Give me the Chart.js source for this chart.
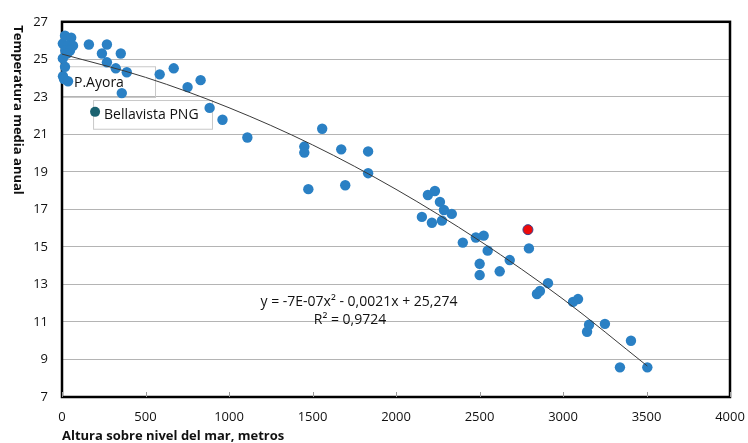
<!DOCTYPE html>
<html>
<head>
<meta charset="utf-8">
<script src="https://cdn.jsdelivr.net/npm/chart.js@4.4.1/dist/chart.umd.min.js"></script>
<style>
  html, body { margin: 0; padding: 0; background: #fff; }
  #wrap { width: 748px; height: 443px; }
</style>
</head>
<body>
<div id="wrap"><canvas id="tempChart" width="748" height="443"></canvas></div>
<script>
/* =========================
   DATA
========================= */

// altitude (m) and mean annual temperature (°C) of the stations
const altitudes = [
  18, 55, 5, 35, 66, 20, 48, 30, 5, 18, 6, 12, 36,
  161, 269, 239, 352, 269, 322, 388, 358, 585, 669, 752, 830, 884, 961, 1110,
  1451, 1451, 1558, 1672, 1833, 1833, 1475, 1696,
  2191, 2233, 2263, 2287, 2334, 2155, 2215, 2275, 2400,
  2478, 2525, 2549, 2501, 2501, 2621, 2681, 2796,
  2844, 2862, 2910, 3060, 3090, 3156, 3144, 3251, 3407, 3341, 3505
];

const temperatures = [
  26.26, 26.15, 25.84, 25.73, 25.73, 25.47, 25.47, 25.3, 25.05, 24.6, 24.1, 23.95, 23.83,
  25.79, 25.79, 25.31, 25.31, 24.84, 24.52, 24.31, 23.2, 24.2, 24.52, 23.52, 23.89, 22.41, 21.78, 20.83,
  20.35, 20.03, 21.3, 20.2, 20.09, 18.93, 18.08, 18.29,
  17.77, 17.98, 17.4, 16.97, 16.76, 16.6, 16.29, 16.4, 15.23,
  15.5, 15.6, 14.8, 14.1, 13.5, 13.7, 14.3, 14.92,
  12.49, 12.65, 13.07, 12.07, 12.22, 10.85, 10.48, 10.9, 10.0, 8.58, 8.58
];

// Bellavista PNG station
const bellavistaAlt = [198];
const bellavistaTemp = [22.2];

// highlighted station (red)
const highlightAlt = [2790];
const highlightTemp = [15.92];

// polynomial trend line
const trendAlt = [0, 500, 1000, 1500, 2000, 2500, 3000, 3505];
const trendTemp = [25.28, 24.04, 22.42, 20.44, 18.07, 15.33, 12.22, 8.65];

const xTicks = [0, 500, 1000, 1500, 2000, 2500, 3000, 3500, 4000];
const yTicks = [7, 9, 11, 13, 15, 17, 19, 21, 23, 25, 27];

const equationText = "y = -7E-07x\u00B2 - 0,0021x + 25,274";
const r2Text = "R\u00B2 = 0,9724";
const yTitle = "Temperatura media anual";
const xTitle = "Altura sobre nivel del mar, metros";

const FONT = "'Open Sans', 'Noto Sans', sans-serif";

function toPoints(xs, ys) {
  return xs.map((x, i) => ({ x: x, y: ys[i] }));
}

/* =========================
   FRAME, TICKS, LABELS
========================= */

const decorPlugin = {

  id: "decor",

  beforeDatasetsDraw(chart) {

    const ctx = chart.ctx;
    const xs = chart.scales.x;
    const ys = chart.scales.y;
    const a = chart.chartArea;

    ctx.save();

    // label boxes, anchored to data coordinates
    ctx.strokeStyle = "#c8c8c8";
    ctx.lineWidth = 1;

    const ayX1 = xs.getPixelForValue(0);
    const ayX2 = xs.getPixelForValue(557);
    const ayY1 = ys.getPixelForValue(24.63);
    const ayY2 = ys.getPixelForValue(22.99);
    ctx.strokeRect(ayX1 + 0.5, ayY1 + 0.5, ayX2 - ayX1, ayY2 - ayY1);

    const bvX1 = xs.getPixelForValue(186);
    const bvX2 = xs.getPixelForValue(898);
    const bvY1 = ys.getPixelForValue(22.83);
    const bvY2 = ys.getPixelForValue(21.3);
    ctx.strokeRect(bvX1 + 0.5, bvY1 + 0.5, bvX2 - bvX1, bvY2 - bvY1);

    ctx.fillStyle = "#111";
    ctx.font = "14px " + FONT;
    ctx.textBaseline = "middle";
    ctx.textAlign = "left";
    ctx.fillText("P.Ayora", ayX1 + 12, (ayY1 + ayY2) / 2 + 1);
    ctx.fillText("Bellavista PNG", bvX1 + 11, (bvY1 + bvY2) / 2 + 1);

    // thick frame round the plot
    ctx.strokeStyle = "#000";
    ctx.lineWidth = 2.5;
    ctx.strokeRect(a.left, a.top, a.right - a.left, a.bottom - a.top);

    // small x tick marks pointing inside
    ctx.strokeStyle = "#999";
    ctx.lineWidth = 1;
    xTicks.forEach(v => {
      const px = Math.round(xs.getPixelForValue(v)) + 0.5;
      ctx.beginPath();
      ctx.moveTo(px, a.bottom);
      ctx.lineTo(px, a.bottom - 5);
      ctx.stroke();
    });

    ctx.restore();
  },

  afterDraw(chart) {

    const ctx = chart.ctx;
    const a = chart.chartArea;

    ctx.save();

    // trend equation
    ctx.fillStyle = "#111";
    ctx.font = "14px " + FONT;
    ctx.textAlign = "center";
    ctx.textBaseline = "middle";
    ctx.fillText(equationText, a.left + 297, a.top + 280);
    ctx.fillText(r2Text, a.left + 288, a.top + 298);

    // axis titles
    ctx.font = "bold 13px " + FONT;
    ctx.textAlign = "left";
    ctx.fillText(xTitle, a.left, a.bottom + 39);

    ctx.translate(18, 110);
    ctx.rotate(Math.PI / 2);
    ctx.textAlign = "center";
    ctx.fillText(yTitle, 0, 0);

    ctx.restore();
  }

};

/* =========================
   CHART
========================= */

const ctx =
  document
    .getElementById("tempChart")
    .getContext("2d");

const tempChart =
  new Chart(ctx, {

    type: "scatter",

    data: {

      datasets: [

        {
          label: "Tendencia",
          type: "line",
          data: toPoints(trendAlt, trendTemp),
          borderColor: "#3a3a3a",
          borderWidth: 1,
          pointRadius: 0,
          fill: false,
          cubicInterpolationMode: "monotone",
          order: 0
        },

        {
          label: "Highlight",
          data: toPoints(highlightAlt, highlightTemp),
          backgroundColor: "#ee0a0a",
          borderColor: "#38408a",
          borderWidth: 1,
          pointRadius: 5,
          order: 1
        },

        {
          label: "Bellavista PNG",
          data: toPoints(bellavistaAlt, bellavistaTemp),
          backgroundColor: "#1b6270",
          borderWidth: 0,
          pointRadius: 5,
          order: 2
        },

        {
          label: "Estaciones",
          data: toPoints(altitudes, temperatures),
          backgroundColor: "#2a80c4",
          borderWidth: 0,
          pointRadius: 5.2,
          clip: 10,
          order: 3
        }

      ]

    },

    options: {

      responsive: false,

      animation: false,

      layout: {
        padding: { top: 18, right: 18, left: 0, bottom: 0 }
      },

      plugins: {
        legend: { display: false },
        tooltip: { enabled: false }
      },

      scales: {

        x: {
          type: "linear",
          min: 0,
          max: 4000,
          afterBuildTicks: scale => {
            scale.ticks = xTicks.map(v => ({ value: v }));
          },
          afterFit: scale => {
            scale.height = 46;
            scale.paddingLeft = 0;
            scale.paddingRight = 0;
          },
          ticks: {
            color: "#111",
            padding: 12,
            maxRotation: 0,
            font: { family: FONT, size: 13 },
            callback: v => String(v)
          },
          grid: { display: false, drawTicks: false },
          border: { display: false }
        },

        y: {
          type: "linear",
          min: 7,
          max: 27,
          afterBuildTicks: scale => {
            scale.ticks = yTicks.map(v => ({ value: v }));
          },
          afterFit: scale => { scale.width = 62; },
          ticks: {
            color: "#111",
            padding: 14,
            font: { family: FONT, size: 13 }
          },
          grid: {
            color: "#b4b4b4",
            lineWidth: 1,
            drawTicks: false
          },
          border: { display: false }
        }

      }

    },

    plugins: [decorPlugin]

  });
</script>
</body>
</html>
